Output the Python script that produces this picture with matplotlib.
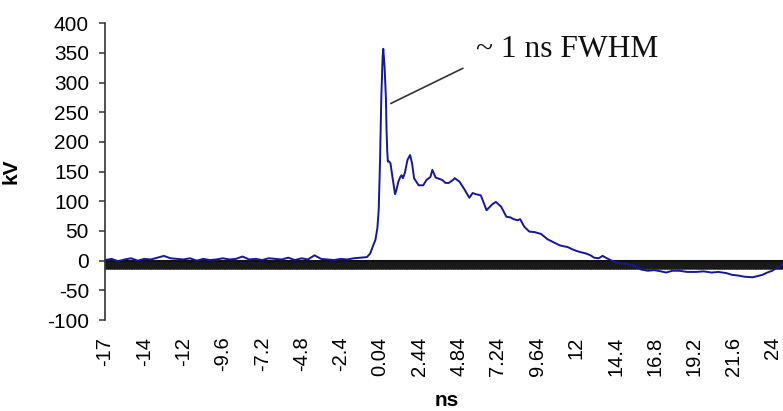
import numpy as np
import matplotlib
matplotlib.use("Agg")
import matplotlib.pyplot as plt

# ---- data ----
t_base = [-16.76, -16.36, -15.96, -15.56, -15.16, -14.76, -14.36, -13.96, -13.56, -13.16,
          -12.76, -12.36, -11.96, -11.56, -11.16, -10.76, -10.36, -9.96, -9.56, -9.16,
          -8.76, -8.36, -7.96, -7.56, -7.16, -6.76, -6.36, -5.96, -5.56, -5.16,
          -4.76, -4.36, -3.96, -3.56, -3.16, -2.76, -2.36, -1.96, -1.56, -1.16]
v_base = [1, 3, -1, 2, 4, 0, 3, 2, 5, 8,
          4, 3, 2, 4, 0, 3, 1, 2, 4, 2,
          3, 7, 2, 3, 1, 4, 3, 2, 5, 1,
          4, 2, 9, 3, 2, 1, 3, 2, 4, 5]

t_pulse = [-0.76, -0.56, -0.40, -0.24, -0.12, -0.04, 0.04, 0.12, 0.20, 0.24, 0.32, 0.40,
           0.44, 0.48, 0.52, 0.60, 0.68, 0.80, 0.96, 1.04, 1.16, 1.28, 1.36, 1.44, 1.56,
           1.72, 1.88, 2.00, 2.12, 2.40, 2.68, 2.88, 3.12, 3.24, 3.44, 3.64, 3.84, 4.04,
           4.24, 4.50, 4.60, 4.90, 5.20, 5.50, 5.70, 5.90, 6.20, 6.55, 6.90, 7.12, 7.44, 7.76]
v_pulse = [6, 12, 24, 35, 55, 85, 165, 275, 343, 357, 326, 275,
           220, 186, 167, 167, 164, 141, 112, 119, 133, 141, 144, 139, 148,
           170, 178, 164, 139, 127, 127, 136, 141, 153, 140, 138, 136, 131,
           131, 136, 139, 133, 120, 106, 114, 112, 110, 85, 95, 99, 91, 74]

t_tail = [8.00, 8.20, 8.45, 8.60, 8.86, 9.16, 9.50, 9.88, 10.10, 10.28, 10.50, 10.80,
          11.00, 11.30, 11.50, 11.80, 12.20, 12.64, 12.90, 13.12, 13.40, 13.64, 13.90,
          14.12, 14.44, 14.80, 15.20, 15.50, 15.80, 16.00, 16.40, 16.80, 17.20, 17.52,
          17.90, 18.32, 18.80, 19.36, 19.80, 20.30, 20.72, 21.20, 21.56, 21.90, 22.30,
          22.80, 23.10, 23.40, 23.70, 24.00, 24.30, 24.66]
v_tail = [73, 70, 68, 70, 57, 49, 48, 45, 40, 36, 33, 29,
          26, 24, 23, 19, 15, 12, 9, 5, 4, 8, 4,
          1, -3, -5, -6, -8, -12, -15, -17, -16, -18, -20,
          -17, -17, -19, -19, -18, -20, -19, -21, -24, -25, -27,
          -28, -26, -24, -20, -17, -12, -6]

x_tick_pos = [-16.76, -14.36, -11.96, -9.56, -7.16, -4.76, -2.36, 0.04, 2.44, 4.84,
              7.24, 9.64, 12.04, 14.44, 16.84, 19.24, 21.64, 24.04]
x_tick_labels = ["-17", "-14", "-12", "-9.6", "-7.2", "-4.8", "-2.4", "0.04", "2.44",
                 "4.84", "7.24", "9.64", "12", "14.4", "16.8", "19.2", "21.6", "24"]
y_ticks = [-100, -50, 0, 50, 100, 150, 200, 250, 300, 350, 400]

t = t_base + t_pulse + t_tail
v = v_base + v_pulse + v_tail

plt.rcParams['font.family'] = ['Liberation Sans', 'DejaVu Sans']
plt.rcParams['axes.unicode_minus'] = False

fig = plt.figure(figsize=(7.83, 4.11), dpi=100)
ax = fig.add_axes([105/783, 1 - 320/411, 1 - 105/783, (320 - 23.3)/411])

ax.plot(t, v, color='#16169a', lw=1.4, zorder=3)

ax.set_xlim(-16.76, 24.66)
ax.set_ylim(-100, 400)

for s in ['top', 'right', 'bottom']:
    ax.spines[s].set_visible(False)
ax.spines['left'].set_color('#333333')
ax.spines['left'].set_linewidth(1.2)

ax.set_yticks(y_ticks)
ax.tick_params(axis='y', direction='out', length=4.5, width=1.1, color='#333333',
               labelsize=15, pad=7)
ax.set_xticks(x_tick_pos)
ax.set_xticklabels(x_tick_labels, rotation=90)
ax.tick_params(axis='x', length=0, labelsize=14.5, pad=12)

# zero-crossing category axis with dense tick marks
sec = ax.secondary_xaxis(0.2)
sec.spines['bottom'].set_linewidth(1.5)
sec.spines['bottom'].set_color('#111111')
sec.set_xticks(np.arange(-16.76, 24.66, 0.04))
sec.set_xticklabels([])
sec.tick_params(axis='x', direction='out', length=5.5, width=1.0, color='#1a1a1a')

ax.set_ylabel('kV', fontsize=15, fontweight='bold')
ax.yaxis.set_label_coords(-84/678, 0.5)
fig.text(447/783, 1 - 400/411, 'ns', fontsize=15, fontweight='bold', ha='center', va='center')

# annotation
ax.plot([0.71, 5.09], [265, 324], color='#333333', lw=1.2, zorder=4)
ax.text(5.88, 356, '~ 1 ns FWHM', fontsize=22.7, family=['Liberation Serif', 'DejaVu Serif'],
        va='center', ha='left', color='#111111')

fig.savefig('out.png', dpi=100)
